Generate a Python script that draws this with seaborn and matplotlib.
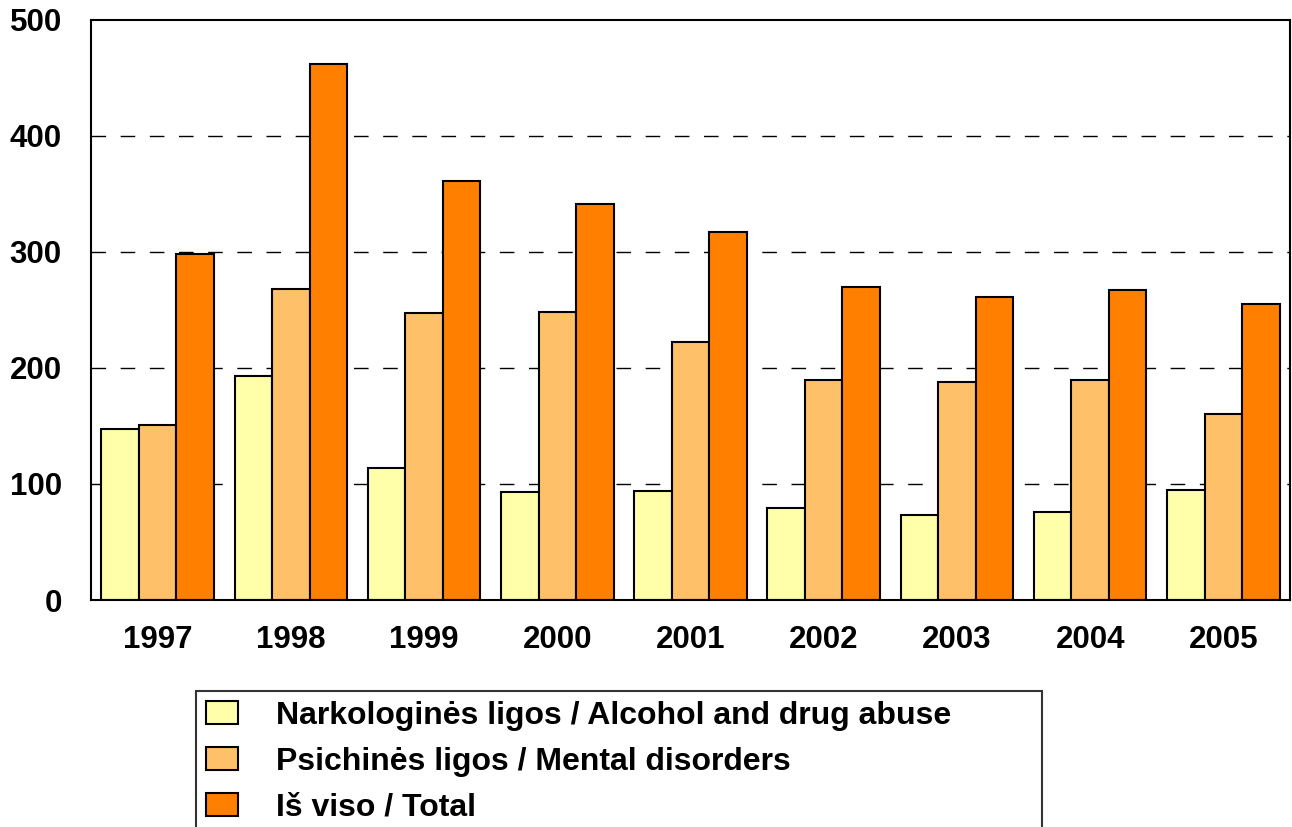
import pandas as pd
import matplotlib
matplotlib.use('Agg')
import matplotlib.pyplot as plt
import seaborn as sns

# Datos
years = ['1997', '1998', '1999', '2000', '2001', '2002', '2003', '2004', '2005']
narko = [147, 193, 114, 93, 94, 79, 73, 76, 95]
psich = [151, 268, 247, 248, 222, 190, 188, 190, 160]
total = [298, 462, 361, 341, 317, 270, 261, 267, 255]
series_names = ['Narkologinės ligos / Alcohol and drug abuse',
                'Psichinės ligos / Mental disorders',
                'Iš viso / Total']
colors = ['#FFFFAA', '#FFC06A', '#FF8000']
yticks = [0, 100, 200, 300, 400, 500]

rows = []
for name, vals in zip(series_names, [narko, psich, total]):
    for y, v in zip(years, vals):
        rows.append({'year': y, 'value': v, 'serie': name})
df = pd.DataFrame(rows)

sns.set_style('white')
plt.rcParams['font.family'] = ['Liberation Sans', 'DejaVu Sans']
plt.rcParams['font.weight'] = 'bold'
plt.rcParams['text.color'] = 'black'
plt.rcParams['xtick.color'] = 'black'
plt.rcParams['ytick.color'] = 'black'

fig = plt.figure(figsize=(12.92, 8.27), dpi=100)
ax = fig.add_axes([91 / 1292, 227 / 827, 1199 / 1292, 580 / 827])

sns.barplot(data=df, x='year', y='value', hue='serie', order=years,
            hue_order=series_names, palette=colors, width=0.845, gap=0,
            edgecolor='black', linewidth=1.5, saturation=1, ax=ax)

ax.set_xlim(-0.5, len(years) - 0.5)
ax.set_ylim(0, 500)
ax.set_yticks(yticks)
ax.set_yticklabels([str(t) for t in yticks])
ax.set_xlabel('')
ax.set_ylabel('')
ax.tick_params(axis='both', length=0, labelsize=22.5, labelcolor='black')
ax.tick_params(axis='y', pad=21)
ax.tick_params(axis='x', pad=18)
for lab in ax.get_xticklabels() + ax.get_yticklabels():
    lab.set_fontweight('bold')

# lineas de grilla discontinuas
for t in yticks[1:-1]:
    ax.axhline(t, color='black', linewidth=1, linestyle=(0, (10.5, 10.5)), zorder=0)

for s in ax.spines.values():
    s.set_color('black')
    s.set_linewidth(1.5)

handles, labels = ax.get_legend_handles_labels()
ax.legend_.remove()
leg = ax.legend(handles, labels, loc='upper left',
                bbox_to_anchor=(196 / 1292, 1 - 691 / 827, 846 / 1292, 0),
                bbox_transform=fig.transFigure, mode='expand', frameon=True,
                fancybox=False, edgecolor='black', fontsize=23,
                handlelength=1.0, handleheight=0.7, handletextpad=1.2,
                labelspacing=0.5, borderpad=0.3, borderaxespad=0)
leg.get_frame().set_linewidth(1.5)
for txt in leg.get_texts():
    txt.set_fontweight('bold')
    txt.set_color('black')

fig.savefig('out.png', dpi=100)
